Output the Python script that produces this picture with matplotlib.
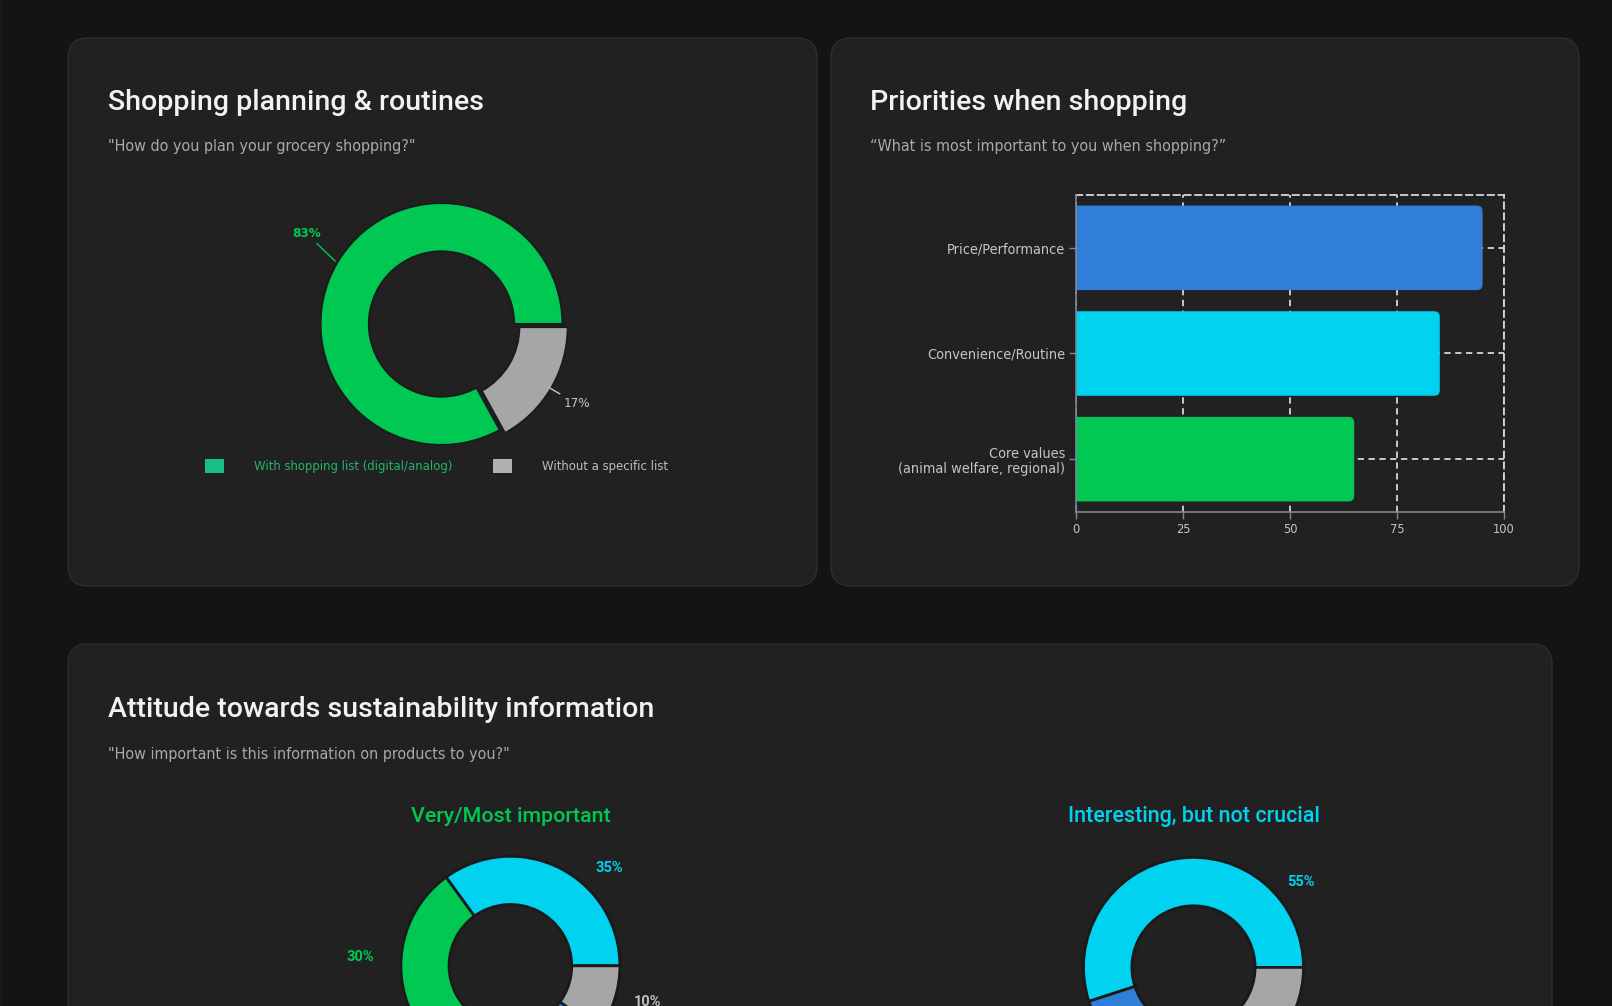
import matplotlib
matplotlib.use("Agg")
import matplotlib.pyplot as plt
from matplotlib.patches import FancyBboxPatch, Rectangle, Patch
from matplotlib import font_manager as fm
import numpy as np

W, H = 1612, 1006

# ---------------- data ----------------
plan_labels = ["With shopping list (digital/analog)", "Without a specific list"]
plan_values = [83, 17]

prio_categories = ["Price/Performance", "Convenience/Routine",
                   "Core values\n(animal welfare, regional)"]
prio_values = [95, 85, 65]
prio_ticks = [0, 25, 50, 75, 100]

sust_titles = ["Very/Most important", "Interesting, but not crucial"]
sust_a_values = [35, 30, 25, 10]
sust_b_values = [55, 25, 8, 12]

# ---------------- style ----------------
BG = "#141414"
PANEL = "#212121"
PANEL_EDGE = "#2d2d2d"
GREEN = "#00c853"
CYAN = "#00d2f0"
BLUE = "#2f7ed8"
GREY = "#a6a6a6"
LEG_GREEN = "#17bf84"
LEG_GREEN_TXT = "#23b46e"

names = {f.name for f in fm.fontManager.ttflist}
has_dv_cond = any(f.name == "DejaVu Sans" and str(f.stretch) in ("condensed", "semi-condensed")
                  for f in fm.fontManager.ttflist)
if "Liberation Sans Narrow" in names:
    COND = dict(fontfamily=["Liberation Sans Narrow", "DejaVu Sans"])
    CS = 1.0
elif has_dv_cond:
    COND = dict(fontfamily=["DejaVu Sans", "DejaVu Sans"], fontstretch="condensed")
    CS = 0.92
else:
    COND = dict(fontfamily=["Roboto", "DejaVu Sans"])
    CS = 0.9
TITLE = dict(fontfamily=["Roboto", "DejaVu Sans"], fontweight="medium")

fig = plt.figure(figsize=(W / 100, H / 100), dpi=100)
fig.patch.set_facecolor(BG)


def fx(x):
    return x / W


def fy(y):
    return 1 - y / H


def panel(x0, y0, x1, y1):
    p = FancyBboxPatch((x0 / 100, (H - y1) / 100), (x1 - x0) / 100, (y1 - y0) / 100,
                       boxstyle="round,pad=0,rounding_size=0.2",
                       transform=fig.dpi_scale_trans, fc=PANEL, ec=PANEL_EDGE, lw=1.0,
                       zorder=-10)
    fig.patches.append(p)


# thin stripe at left edge
fig.patches.append(Rectangle((0, 0), 2 / W, 1, transform=fig.transFigure,
                             fc="#1b1b1b", ec="none", zorder=-10))

panel(68, 38, 817, 586)
panel(831, 38, 1579, 586)
panel(68, 644, 1552, 1150)


def title(x, y, s):
    fig.text(fx(x), fy(y), s, color="#f2f2f2", fontsize=20.5, ha="left", va="baseline", **TITLE)


def subtitle(x, y, s):
    fig.text(fx(x), fy(y), s, color="#a9a9a9", fontsize=12.5 * CS, ha="left", va="baseline", **COND)


title(108, 110, "Shopping planning & routines")
subtitle(108, 151, "\"How do you plan your grocery shopping?\"")
title(870, 110, "Priorities when shopping")
subtitle(870, 151, "\u201cWhat is most important to you when shopping?\u201d")
title(108, 717, "Attitude towards sustainability information")
subtitle(108, 759, "\"How important is this information on products to you?\"")


def donut_ax(cx, cy, r, k=1.6):
    ax = fig.add_axes([fx(cx - k * r), fy(cy + k * r), 2 * k * r / W, 2 * k * r / H])
    ax.set_facecolor("none")
    return ax, k


# ---------------- panel 1: donut ----------------
EXP = 0.05
ax1, k1 = donut_ax(441.5, 324, 121)
w1, _ = ax1.pie(plan_values, colors=[GREEN, GREY], startangle=0, counterclock=True,
                explode=[0, EXP], radius=1.0,
                wedgeprops=dict(width=0.4, edgecolor="#1c1c1c", linewidth=1.5))
ax1.set_xlim(-k1, k1)
ax1.set_ylim(-k1, k1)
ax1.axis("off")

mid_g = np.deg2rad(plan_values[0] / 100 * 360 / 2)
ax1.annotate(f"{plan_values[0]}%", xy=(1.02 * np.cos(mid_g), 1.02 * np.sin(mid_g)),
             xytext=(-1.0, 0.75),
             ha="right", va="center", color=GREEN, fontsize=10.5 * CS, fontweight="bold",
             arrowprops=dict(arrowstyle="-", color=GREEN, lw=1.0, shrinkA=1, shrinkB=0), **COND)
mid_r = np.deg2rad(360 - plan_values[1] / 100 * 360 / 2)
ax1.annotate(f"{plan_values[1]}%", xy=(0.98 * (1 + EXP) * np.cos(mid_r),
                                       0.98 * (1 + EXP) * np.sin(mid_r)),
             xytext=(1.01, -0.66), ha="left", va="center", color="#c4c4c4",
             fontsize=10.5 * CS,
             arrowprops=dict(arrowstyle="-", color="#c4c4c4", lw=1.0, shrinkA=1, shrinkB=0), **COND)

leg = fig.legend(handles=[Patch(fc=LEG_GREEN, ec="none"), Patch(fc="#b0b0b0", ec="none")],
                 labels=plan_labels, ncol=2, frameon=False, loc="center left",
                 bbox_to_anchor=(fx(205), fy(466)), fontsize=10.2 * CS,
                 handlelength=1.45, handleheight=1.3, handletextpad=2.3, columnspacing=3.1,
                 borderpad=0, borderaxespad=0, labelcolor=[LEG_GREEN_TXT, "#bdbdbd"])
for t in leg.get_texts():
    t.set_fontfamily(COND["fontfamily"])
    if "fontstretch" in COND:
        t.set_fontstretch(COND["fontstretch"])

# ---------------- panel 2: bars ----------------
ax2 = fig.add_axes([fx(1076), fy(512), (1504 - 1076) / W, (512 - 195) / H])
ax2.set_facecolor("none")
ax2.set_xlim(0, 100)
ax2.set_ylim(len(prio_values) - 0.5, -0.5)
prio_colors = [BLUE, CYAN, GREEN]
bar_h = 0.8
px_x = (1504 - 1076) / 100
px_y = (512 - 195) / 3
asp = px_x / px_y
ROUND = 1.3
for i, (v, c) in enumerate(zip(prio_values, prio_colors)):
    # start slightly left of 0 so the left corners are clipped square at the axis
    ax2.add_patch(FancyBboxPatch((-2 * ROUND, i - bar_h / 2), v + 2 * ROUND, bar_h,
                                 boxstyle=f"round,pad=0,rounding_size={ROUND}",
                                 mutation_aspect=asp, fc=c, ec="none", zorder=3))
ax2.set_yticks(range(len(prio_categories)))
ax2.set_yticklabels(prio_categories, ha="right", linespacing=1.1)
ax2.set_xticks(prio_ticks)
ax2.set_xticklabels([str(t) for t in prio_ticks])
ax2.set_axisbelow(True)
dash = (0, (3.5, 2.5))
ax2.grid(True, color="#d6d6d6", lw=1.3, linestyle=dash, zorder=0)
for s in ["top", "right"]:
    ax2.spines[s].set_color("#d6d6d6")
    ax2.spines[s].set_linestyle(dash)
    ax2.spines[s].set_linewidth(1.3)
for s in ["left", "bottom"]:
    ax2.spines[s].set_color("#7c8797")
    ax2.spines[s].set_linewidth(1.2)
ax2.spines["left"].set_zorder(4)
ax2.tick_params(axis="both", colors="#7c8797", length=5, width=1.0, labelcolor="#c4c4c4",
                pad=3)
ax2.tick_params(axis="x", labelsize=10 * CS)
ax2.tick_params(axis="y", labelsize=11.3 * CS)
for t in ax2.get_xticklabels() + ax2.get_yticklabels():
    t.set_fontfamily(COND["fontfamily"])
    if "fontstretch" in COND:
        t.set_fontstretch(COND["fontstretch"])

# ---------------- panel 3: two donuts ----------------
fig.text(fx(511), fy(822), sust_titles[0], color=GREEN, fontsize=15.4, ha="center",
         va="baseline", **TITLE)
fig.text(fx(1193.5), fy(822), sust_titles[1], color=CYAN, fontsize=15.5, ha="center",
         va="baseline", **TITLE)

axa, ka = donut_ax(510.4, 965.8, 109.5)
axa.pie(sust_a_values, colors=[CYAN, GREEN, BLUE, GREY], startangle=0, counterclock=True,
        radius=1.0, wedgeprops=dict(width=0.44, edgecolor="#1a1a1a", linewidth=2))
axa.set_xlim(-ka, ka)
axa.set_ylim(-ka, ka)
axa.axis("off")
lab_a_pos = [(0.90, 0.89), (-1.37, 0.08), None, (1.255, -0.335)]
lab_a_col = [CYAN, GREEN, BLUE, "#bdbdbd"]
for v, pos, c in zip(sust_a_values, lab_a_pos, lab_a_col):
    if pos is not None:
        axa.text(pos[0], pos[1], f"{v}%", color=c, fontsize=10.5, fontweight="bold",
                 ha="center", va="center", fontfamily=["Roboto", "DejaVu Sans"])

axb, kb = donut_ax(1193.5, 967.4, 110)
axb.pie(sust_b_values, colors=[CYAN, BLUE, GREEN, GREY], startangle=0, counterclock=True,
        radius=1.0, wedgeprops=dict(width=0.44, edgecolor="#1a1a1a", linewidth=2))
axb.set_xlim(-kb, kb)
axb.set_ylim(-kb, kb)
axb.axis("off")
lab_b_pos = [(0.98, 0.78), None, None, None]
for v, pos, c in zip(sust_b_values, lab_b_pos, [CYAN, BLUE, GREEN, "#bdbdbd"]):
    if pos is not None:
        axb.text(pos[0], pos[1], f"{v}%", color=c, fontsize=10.5, fontweight="bold",
                 ha="center", va="center", fontfamily=["Roboto", "DejaVu Sans"])

fig.savefig("out.png", dpi=100, facecolor=BG)
